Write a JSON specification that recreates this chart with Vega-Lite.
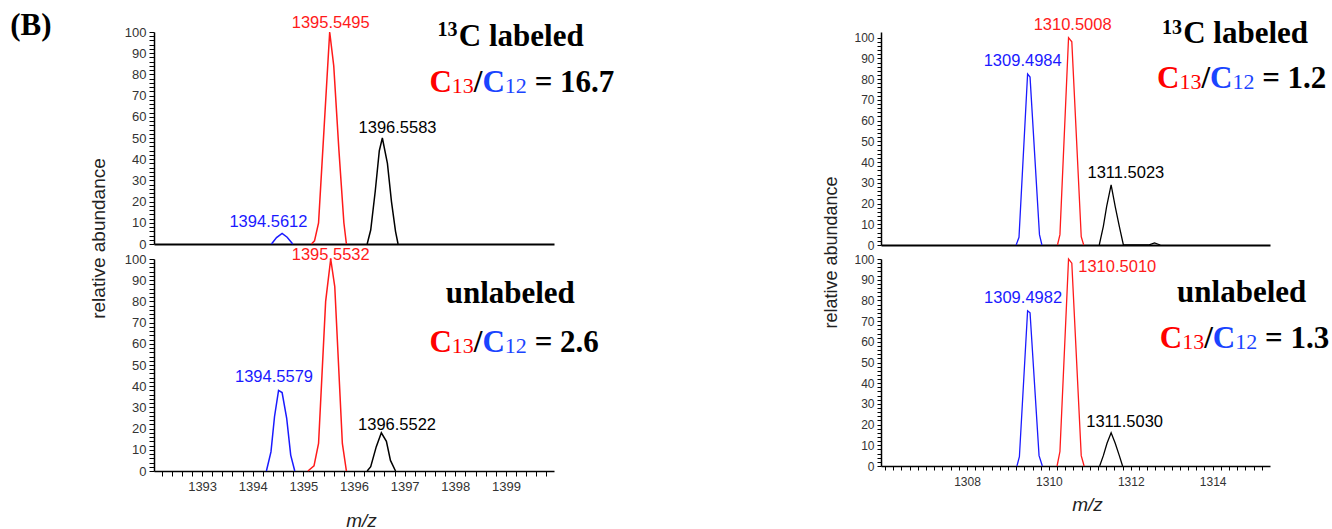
{
  "$schema": "https://vega.github.io/schema/vega-lite/v6.json",
  "background": "white",
  "padding": {"left": 10, "top": 9, "right": 0, "bottom": 0},
  "bounds": "flush",
  "spacing": 727,
  "config": {
    "view": {"stroke": null},
    "axis": {"grid": false, "labelFont": "Liberation Sans", "titleFont": "Liberation Sans", "labelOverlap": false, "labelBound": false, "labelFlush": false, "tickColor": "#000", "domainColor": "#000"},
    "text": {"font": "Liberation Sans"}
  },
  "datasets": {
    "pk_LT": [
      {"mz": 1394.37, "ab": 0, "ion": "C12"}, {"mz": 1394.47, "ab": 3, "ion": "C12"}, {"mz": 1394.58, "ab": 5, "ion": "C12"}, {"mz": 1394.68, "ab": 3.2, "ion": "C12"}, {"mz": 1394.79, "ab": 0, "ion": "C12"},
      {"mz": 1395.16, "ab": 0, "ion": "C13"}, {"mz": 1395.22, "ab": 1.5, "ion": "C13"}, {"mz": 1395.30, "ab": 10, "ion": "C13"}, {"mz": 1395.41, "ab": 55, "ion": "C13"}, {"mz": 1395.52, "ab": 100, "ion": "C13"}, {"mz": 1395.60, "ab": 84, "ion": "C13"}, {"mz": 1395.70, "ab": 45, "ion": "C13"}, {"mz": 1395.80, "ab": 10, "ion": "C13"}, {"mz": 1395.85, "ab": 0, "ion": "C13"},
      {"mz": 1396.26, "ab": 0, "ion": "M1"}, {"mz": 1396.33, "ab": 6.6, "ion": "M1"}, {"mz": 1396.42, "ab": 25, "ion": "M1"}, {"mz": 1396.50, "ab": 44, "ion": "M1"}, {"mz": 1396.56, "ab": 50, "ion": "M1"}, {"mz": 1396.66, "ab": 38, "ion": "M1"}, {"mz": 1396.74, "ab": 20, "ion": "M1"}, {"mz": 1396.82, "ab": 6, "ion": "M1"}, {"mz": 1396.87, "ab": 0, "ion": "M1"}
    ],
    "pk_LB": [
      {"mz": 1394.27, "ab": 0, "ion": "C12"}, {"mz": 1394.36, "ab": 9, "ion": "C12"}, {"mz": 1394.43, "ab": 25.6, "ion": "C12"}, {"mz": 1394.51, "ab": 38, "ion": "C12"}, {"mz": 1394.58, "ab": 37, "ion": "C12"}, {"mz": 1394.67, "ab": 25, "ion": "C12"}, {"mz": 1394.75, "ab": 7.5, "ion": "C12"}, {"mz": 1394.83, "ab": 0, "ion": "C12"},
      {"mz": 1395.09, "ab": 0, "ion": "C13"}, {"mz": 1395.21, "ab": 2.4, "ion": "C13"}, {"mz": 1395.30, "ab": 13, "ion": "C13"}, {"mz": 1395.44, "ab": 80, "ion": "C13"}, {"mz": 1395.54, "ab": 100, "ion": "C13"}, {"mz": 1395.62, "ab": 87, "ion": "C13"}, {"mz": 1395.77, "ab": 13, "ion": "C13"}, {"mz": 1395.85, "ab": 0, "ion": "C13"},
      {"mz": 1396.26, "ab": 0, "ion": "M1"}, {"mz": 1396.33, "ab": 2, "ion": "M1"}, {"mz": 1396.44, "ab": 11.5, "ion": "M1"}, {"mz": 1396.54, "ab": 18, "ion": "M1"}, {"mz": 1396.64, "ab": 14, "ion": "M1"}, {"mz": 1396.72, "ab": 5, "ion": "M1"}, {"mz": 1396.82, "ab": 0, "ion": "M1"}
    ],
    "pk_RT": [
      {"mz": 1309.20, "ab": 0, "ion": "C12"}, {"mz": 1309.27, "ab": 3.7, "ion": "C12"}, {"mz": 1309.48, "ab": 82.5, "ion": "C12"}, {"mz": 1309.54, "ab": 81, "ion": "C12"}, {"mz": 1309.77, "ab": 5, "ion": "C12"}, {"mz": 1309.83, "ab": 0, "ion": "C12"},
      {"mz": 1310.21, "ab": 0, "ion": "C13"}, {"mz": 1310.27, "ab": 5, "ion": "C13"}, {"mz": 1310.48, "ab": 100, "ion": "C13"}, {"mz": 1310.56, "ab": 98, "ion": "C13"}, {"mz": 1310.79, "ab": 4, "ion": "C13"}, {"mz": 1310.85, "ab": 0, "ion": "C13"},
      {"mz": 1311.23, "ab": 0, "ion": "M1"}, {"mz": 1311.33, "ab": 9, "ion": "M1"}, {"mz": 1311.41, "ab": 18.5, "ion": "M1"}, {"mz": 1311.52, "ab": 29, "ion": "M1"}, {"mz": 1311.62, "ab": 18.5, "ion": "M1"}, {"mz": 1311.72, "ab": 9, "ion": "M1"}, {"mz": 1311.82, "ab": 0, "ion": "M1"}, {"mz": 1312.43, "ab": 0, "ion": "M1"}, {"mz": 1312.58, "ab": 1, "ion": "M1"}, {"mz": 1312.72, "ab": 0, "ion": "M1"}
    ],
    "pk_RB": [
      {"mz": 1309.22, "ab": 0, "ion": "C12"}, {"mz": 1309.28, "ab": 4.5, "ion": "C12"}, {"mz": 1309.48, "ab": 75, "ion": "C12"}, {"mz": 1309.54, "ab": 74, "ion": "C12"}, {"mz": 1309.76, "ab": 5, "ion": "C12"}, {"mz": 1309.84, "ab": 0, "ion": "C12"},
      {"mz": 1310.20, "ab": 0, "ion": "C13"}, {"mz": 1310.27, "ab": 7, "ion": "C13"}, {"mz": 1310.48, "ab": 100, "ion": "C13"}, {"mz": 1310.56, "ab": 98, "ion": "C13"}, {"mz": 1310.79, "ab": 5, "ion": "C13"}, {"mz": 1310.86, "ab": 0, "ion": "C13"},
      {"mz": 1311.24, "ab": 0, "ion": "M1"}, {"mz": 1311.33, "ab": 5, "ion": "M1"}, {"mz": 1311.42, "ab": 11, "ion": "M1"}, {"mz": 1311.52, "ab": 16, "ion": "M1"}, {"mz": 1311.62, "ab": 11, "ion": "M1"}, {"mz": 1311.72, "ab": 5, "ion": "M1"}, {"mz": 1311.80, "ab": 0, "ion": "M1"}
    ],
    "lab_LT": [
      {"mz": 1394.31, "ab": 8.0, "label": "1394.5612", "ion": "C12"},
      {"mz": 1395.54, "ab": 102, "label": "1395.5495", "ion": "C13"},
      {"mz": 1396.86, "ab": 52.4, "label": "1396.5583", "ion": "M1"}
    ],
    "lab_LB": [
      {"mz": 1395.54, "ab": 99.5, "label": "1395.5532", "ion": "C13"},
      {"mz": 1394.42, "ab": 42.1, "label": "1394.5579", "ion": "C12"},
      {"mz": 1396.85, "ab": 19.3, "label": "1396.5522", "ion": "M1"}
    ],
    "lab_RT": [
      {"mz": 1310.58, "ab": 103.7, "label": "1310.5008", "ion": "C13"},
      {"mz": 1309.36, "ab": 86.5, "label": "1309.4984", "ion": "C12"},
      {"mz": 1311.88, "ab": 32.2, "label": "1311.5023", "ion": "M1"}
    ],
    "lab_RB": [
      {"mz": 1311.67, "ab": 93.9, "label": "1310.5010", "ion": "C13"},
      {"mz": 1309.37, "ab": 78.6, "label": "1309.4982", "ion": "C12"},
      {"mz": 1311.85, "ab": 19, "label": "1311.5030", "ion": "M1"}
    ],
    "ann_LT": [
      {"part": "panel", "mz": 1389.21, "ab": 98.6, "text": "(B)"},
      {"part": "sup", "mz": 1397.65, "ab": 98.1, "text": "13"},
      {"part": "title", "mz": 1398.07, "ab": 93.4, "text": "C labeled"},
      {"part": "ratio", "mz": 1397.49, "ab": 71.7, "text": "= 16.7"}
    ],
    "ann_LB": [
      {"part": "title", "mz": 1397.81, "ab": 79.2, "text": "unlabeled"},
      {"part": "ratio", "mz": 1397.49, "ab": 56.1, "text": "= 2.6"}
    ],
    "ann_RT": [
      {"part": "sup", "mz": 1312.76, "ab": 101.6, "text": "13"},
      {"part": "title", "mz": 1313.28, "ab": 97.4, "text": "C labeled"},
      {"part": "ratio", "mz": 1312.64, "ab": 75.7, "text": "= 1.2"}
    ],
    "ann_RB": [
      {"part": "title", "mz": 1313.13, "ab": 79.2, "text": "unlabeled"},
      {"part": "ratio", "mz": 1312.71, "ab": 57, "text": "= 1.3"}
    ]
  },
  "hconcat": [
    {
      "bounds": "flush",
      "spacing": 15,
      "vconcat": [
        {
          "width": 400, "height": 212,
          "encoding": {
            "x": {"field": "mz", "type": "quantitative", "scale": {"domain": [1392.05, 1399.95], "nice": false, "zero": false}, "axis": {"title": null, "labels": false, "ticks": false, "domain": true, "domainWidth": 2}},
            "y": {"field": "ab", "type": "quantitative", "scale": {"domain": [0, 100], "nice": false}, "axis": {"values": [0,2,4,6,8,10,12,14,16,18,20,22,24,26,28,30,32,34,36,38,40,42,44,46,48,50,52,54,56,58,60,62,64,66,68,70,72,74,76,78,80,82,84,86,88,90,92,94,96,98,100], "labelExpr": "datum.value % 10 === 0 ? datum.label : ''", "tickSize": 5, "domainWidth": 1.5, "labelFontSize": 13, "labelColor": "#333", "labelPadding": 3, "title": "relative abundance", "titleFontSize": 19, "titleFontWeight": "normal", "titleColor": "#222", "titleX": -50, "titleY": 206, "titleAngle": -90, "titleAlign": "center", "titleBaseline": "alphabetic"}}
          },
          "layer": [
            {"data": {"name": "pk_LT"}, "mark": {"type": "line", "strokeWidth": 1.5}, "encoding": {"color": {"field": "ion", "type": "nominal", "scale": {"domain": ["C12", "C13", "M1"], "range": ["#1a1aff", "#ff1a1a", "#000000"]}, "legend": null}}},
            {"data": {"name": "lab_LT"}, "mark": {"type": "text", "fontSize": 16.5, "align": "center", "baseline": "alphabetic"}, "encoding": {"text": {"field": "label"}, "color": {"field": "ion", "type": "nominal", "scale": {"domain": ["C12", "C13", "M1"], "range": ["#1a1aff", "#ff1a1a", "#000000"]}, "legend": null}}},
            {"data": {"name": "ann_LT"}, "transform": [{"filter": "datum.part === 'sup'"}], "mark": {"type": "text", "font": "Liberation Serif", "fontWeight": "bold", "fontSize": 20, "align": "left", "baseline": "alphabetic", "color": "#000"}, "encoding": {"text": {"field": "text"}}},
            {"data": {"name": "ann_LT"}, "transform": [{"filter": "datum.part === 'title' || datum.part === 'panel'"}], "mark": {"type": "text", "font": "Liberation Serif", "fontWeight": "bold", "fontSize": 31, "align": "left", "baseline": "alphabetic", "color": "#000"}, "encoding": {"text": {"field": "text"}}},
            {"data": {"name": "ann_LT"}, "transform": [{"filter": "datum.part === 'ratio'"}], "mark": {"type": "text", "font": "Liberation Serif", "fontWeight": "bold", "fontSize": 31, "align": "left", "baseline": "alphabetic", "color": "#ff0000"}, "encoding": {"text": {"value": "C"}}},
            {"data": {"name": "ann_LT"}, "transform": [{"filter": "datum.part === 'ratio'"}], "mark": {"type": "text", "font": "Liberation Serif", "fontWeight": "normal", "fontSize": 22, "align": "left", "baseline": "alphabetic", "color": "#ff0000", "dx": 22.4, "dy": 1}, "encoding": {"text": {"value": "13"}}},
            {"data": {"name": "ann_LT"}, "transform": [{"filter": "datum.part === 'ratio'"}], "mark": {"type": "text", "font": "Liberation Serif", "fontWeight": "bold", "fontSize": 31, "align": "left", "baseline": "alphabetic", "color": "#000", "dx": 44.4}, "encoding": {"text": {"value": "/"}}},
            {"data": {"name": "ann_LT"}, "transform": [{"filter": "datum.part === 'ratio'"}], "mark": {"type": "text", "font": "Liberation Serif", "fontWeight": "bold", "fontSize": 31, "align": "left", "baseline": "alphabetic", "color": "#1a44ff", "dx": 53}, "encoding": {"text": {"value": "C"}}},
            {"data": {"name": "ann_LT"}, "transform": [{"filter": "datum.part === 'ratio'"}], "mark": {"type": "text", "font": "Liberation Serif", "fontWeight": "normal", "fontSize": 22, "align": "left", "baseline": "alphabetic", "color": "#1a44ff", "dx": 75.4, "dy": 1}, "encoding": {"text": {"value": "12"}}},
            {"data": {"name": "ann_LT"}, "transform": [{"filter": "datum.part === 'ratio'"}], "mark": {"type": "text", "font": "Liberation Serif", "fontWeight": "bold", "fontSize": 31, "align": "left", "baseline": "alphabetic", "color": "#000", "dx": 105.2}, "encoding": {"text": {"field": "text"}}}
          ]
        },
        {
          "width": 400, "height": 212,
          "encoding": {
            "x": {"field": "mz", "type": "quantitative", "scale": {"domain": [1392.05, 1399.95], "nice": false, "zero": false}, "axis": {"values": [1392.2,1392.4,1392.6,1392.8,1393,1393.2,1393.4,1393.6,1393.8,1394,1394.2,1394.4,1394.6,1394.8,1395,1395.2,1395.4,1395.6,1395.8,1396,1396.2,1396.4,1396.6,1396.8,1397,1397.2,1397.4,1397.6,1397.8,1398,1398.2,1398.4,1398.6,1398.8,1399,1399.2,1399.4,1399.6,1399.8], "labelExpr": "abs(datum.value - round(datum.value)) < 0.01 ? format(datum.value, 'd') : ''", "tickSize": 5, "domainWidth": 1.5, "labelFontSize": 13, "labelColor": "#333", "labelPadding": 4, "title": "m/z", "titleFontStyle": "italic", "titleFontSize": 19, "titleFontWeight": "normal", "titleColor": "#222", "titleX": 207, "titleY": 55, "titleAlign": "center", "titleBaseline": "alphabetic"}},
            "y": {"field": "ab", "type": "quantitative", "scale": {"domain": [0, 100], "nice": false}, "axis": {"values": [0,2,4,6,8,10,12,14,16,18,20,22,24,26,28,30,32,34,36,38,40,42,44,46,48,50,52,54,56,58,60,62,64,66,68,70,72,74,76,78,80,82,84,86,88,90,92,94,96,98,100], "labelExpr": "datum.value % 10 === 0 ? datum.label : ''", "tickSize": 5, "domainWidth": 1.5, "labelFontSize": 13, "labelColor": "#333", "labelPadding": 3, "title": null}}
          },
          "layer": [
            {"data": {"name": "pk_LB"}, "mark": {"type": "line", "strokeWidth": 1.5}, "encoding": {"color": {"field": "ion", "type": "nominal", "scale": {"domain": ["C12", "C13", "M1"], "range": ["#1a1aff", "#ff1a1a", "#000000"]}, "legend": null}}},
            {"data": {"name": "lab_LB"}, "mark": {"type": "text", "fontSize": 16.5, "align": "center", "baseline": "alphabetic"}, "encoding": {"text": {"field": "label"}, "color": {"field": "ion", "type": "nominal", "scale": {"domain": ["C12", "C13", "M1"], "range": ["#1a1aff", "#ff1a1a", "#000000"]}, "legend": null}}},
            {"data": {"name": "ann_LB"}, "transform": [{"filter": "datum.part === 'title'"}], "mark": {"type": "text", "font": "Liberation Serif", "fontWeight": "bold", "fontSize": 31, "align": "left", "baseline": "alphabetic", "color": "#000"}, "encoding": {"text": {"field": "text"}}},
            {"data": {"name": "ann_LB"}, "transform": [{"filter": "datum.part === 'ratio'"}], "mark": {"type": "text", "font": "Liberation Serif", "fontWeight": "bold", "fontSize": 31, "align": "left", "baseline": "alphabetic", "color": "#ff0000"}, "encoding": {"text": {"value": "C"}}},
            {"data": {"name": "ann_LB"}, "transform": [{"filter": "datum.part === 'ratio'"}], "mark": {"type": "text", "font": "Liberation Serif", "fontWeight": "normal", "fontSize": 22, "align": "left", "baseline": "alphabetic", "color": "#ff0000", "dx": 22.4, "dy": 1}, "encoding": {"text": {"value": "13"}}},
            {"data": {"name": "ann_LB"}, "transform": [{"filter": "datum.part === 'ratio'"}], "mark": {"type": "text", "font": "Liberation Serif", "fontWeight": "bold", "fontSize": 31, "align": "left", "baseline": "alphabetic", "color": "#000", "dx": 44.4}, "encoding": {"text": {"value": "/"}}},
            {"data": {"name": "ann_LB"}, "transform": [{"filter": "datum.part === 'ratio'"}], "mark": {"type": "text", "font": "Liberation Serif", "fontWeight": "bold", "fontSize": 31, "align": "left", "baseline": "alphabetic", "color": "#1a44ff", "dx": 53}, "encoding": {"text": {"value": "C"}}},
            {"data": {"name": "ann_LB"}, "transform": [{"filter": "datum.part === 'ratio'"}], "mark": {"type": "text", "font": "Liberation Serif", "fontWeight": "normal", "fontSize": 22, "align": "left", "baseline": "alphabetic", "color": "#1a44ff", "dx": 75.4, "dy": 1}, "encoding": {"text": {"value": "12"}}},
            {"data": {"name": "ann_LB"}, "transform": [{"filter": "datum.part === 'ratio'"}], "mark": {"type": "text", "font": "Liberation Serif", "fontWeight": "bold", "fontSize": 31, "align": "left", "baseline": "alphabetic", "color": "#000", "dx": 105.2}, "encoding": {"text": {"field": "text"}}}
          ]
        }
      ]
    },
    {
      "bounds": "flush",
      "spacing": 14,
      "vconcat": [
        {
          "width": 389, "height": 213,
          "encoding": {
            "x": {"field": "mz", "type": "quantitative", "scale": {"domain": [1305.9, 1315.4], "nice": false, "zero": false}, "axis": {"title": null, "labels": false, "ticks": false, "domain": true, "domainWidth": 2}},
            "y": {"field": "ab", "type": "quantitative", "scale": {"domain": [0, 102.75], "nice": false}, "axis": {"values": [0,2,4,6,8,10,12,14,16,18,20,22,24,26,28,30,32,34,36,38,40,42,44,46,48,50,52,54,56,58,60,62,64,66,68,70,72,74,76,78,80,82,84,86,88,90,92,94,96,98,100], "labelExpr": "datum.value % 10 === 0 ? datum.label : ''", "tickSize": 4, "domainWidth": 1.5, "labelFontSize": 12, "labelColor": "#333", "labelPadding": 3, "title": "relative abundance", "titleFontSize": 18, "titleFontWeight": "normal", "titleColor": "#222", "titleX": -45, "titleY": 220, "titleAngle": -90, "titleAlign": "center", "titleBaseline": "alphabetic"}}
          },
          "layer": [
            {"data": {"name": "pk_RT"}, "mark": {"type": "line", "strokeWidth": 1.3}, "encoding": {"color": {"field": "ion", "type": "nominal", "scale": {"domain": ["C12", "C13", "M1"], "range": ["#1a1aff", "#ff1a1a", "#000000"]}, "legend": null}}},
            {"data": {"name": "lab_RT"}, "mark": {"type": "text", "fontSize": 16.5, "align": "center", "baseline": "alphabetic"}, "encoding": {"text": {"field": "label"}, "color": {"field": "ion", "type": "nominal", "scale": {"domain": ["C12", "C13", "M1"], "range": ["#1a1aff", "#ff1a1a", "#000000"]}, "legend": null}}},
            {"data": {"name": "ann_RT"}, "transform": [{"filter": "datum.part === 'sup'"}], "mark": {"type": "text", "font": "Liberation Serif", "fontWeight": "bold", "fontSize": 20, "align": "left", "baseline": "alphabetic", "color": "#000"}, "encoding": {"text": {"field": "text"}}},
            {"data": {"name": "ann_RT"}, "transform": [{"filter": "datum.part === 'title'"}], "mark": {"type": "text", "font": "Liberation Serif", "fontWeight": "bold", "fontSize": 31, "align": "left", "baseline": "alphabetic", "color": "#000"}, "encoding": {"text": {"field": "text"}}},
            {"data": {"name": "ann_RT"}, "transform": [{"filter": "datum.part === 'ratio'"}], "mark": {"type": "text", "font": "Liberation Serif", "fontWeight": "bold", "fontSize": 31, "align": "left", "baseline": "alphabetic", "color": "#ff0000"}, "encoding": {"text": {"value": "C"}}},
            {"data": {"name": "ann_RT"}, "transform": [{"filter": "datum.part === 'ratio'"}], "mark": {"type": "text", "font": "Liberation Serif", "fontWeight": "normal", "fontSize": 22, "align": "left", "baseline": "alphabetic", "color": "#ff0000", "dx": 22.4, "dy": 1}, "encoding": {"text": {"value": "13"}}},
            {"data": {"name": "ann_RT"}, "transform": [{"filter": "datum.part === 'ratio'"}], "mark": {"type": "text", "font": "Liberation Serif", "fontWeight": "bold", "fontSize": 31, "align": "left", "baseline": "alphabetic", "color": "#000", "dx": 44.4}, "encoding": {"text": {"value": "/"}}},
            {"data": {"name": "ann_RT"}, "transform": [{"filter": "datum.part === 'ratio'"}], "mark": {"type": "text", "font": "Liberation Serif", "fontWeight": "bold", "fontSize": 31, "align": "left", "baseline": "alphabetic", "color": "#1a44ff", "dx": 53}, "encoding": {"text": {"value": "C"}}},
            {"data": {"name": "ann_RT"}, "transform": [{"filter": "datum.part === 'ratio'"}], "mark": {"type": "text", "font": "Liberation Serif", "fontWeight": "normal", "fontSize": 22, "align": "left", "baseline": "alphabetic", "color": "#1a44ff", "dx": 75.4, "dy": 1}, "encoding": {"text": {"value": "12"}}},
            {"data": {"name": "ann_RT"}, "transform": [{"filter": "datum.part === 'ratio'"}], "mark": {"type": "text", "font": "Liberation Serif", "fontWeight": "bold", "fontSize": 31, "align": "left", "baseline": "alphabetic", "color": "#000", "dx": 105.2}, "encoding": {"text": {"field": "text"}}}
          ]
        },
        {
          "width": 389, "height": 207,
          "encoding": {
            "x": {"field": "mz", "type": "quantitative", "scale": {"domain": [1305.9, 1315.4], "nice": false, "zero": false}, "axis": {"values": [1306,1306.2,1306.4,1306.6,1306.8,1307,1307.2,1307.4,1307.6,1307.8,1308,1308.2,1308.4,1308.6,1308.8,1309,1309.2,1309.4,1309.6,1309.8,1310,1310.2,1310.4,1310.6,1310.8,1311,1311.2,1311.4,1311.6,1311.8,1312,1312.2,1312.4,1312.6,1312.8,1313,1313.2,1313.4,1313.6,1313.8,1314,1314.2,1314.4,1314.6,1314.8,1315,1315.2], "labelExpr": "abs(datum.value - round(datum.value)) < 0.01 && round(datum.value) % 2 === 0 && datum.value > 1307 ? format(datum.value, 'd') : ''", "tickSize": 4, "domainWidth": 1.5, "labelFontSize": 12, "labelColor": "#333", "labelPadding": 6, "title": "m/z", "titleFontStyle": "italic", "titleFontSize": 19, "titleFontWeight": "normal", "titleColor": "#222", "titleX": 206, "titleY": 44, "titleAlign": "center", "titleBaseline": "alphabetic"}},
            "y": {"field": "ab", "type": "quantitative", "scale": {"domain": [0, 100], "nice": false}, "axis": {"values": [0,2,4,6,8,10,12,14,16,18,20,22,24,26,28,30,32,34,36,38,40,42,44,46,48,50,52,54,56,58,60,62,64,66,68,70,72,74,76,78,80,82,84,86,88,90,92,94,96,98,100], "labelExpr": "datum.value % 10 === 0 ? datum.label : ''", "tickSize": 4, "domainWidth": 1.5, "labelFontSize": 12, "labelColor": "#333", "labelPadding": 3, "title": null}}
          },
          "layer": [
            {"data": {"name": "pk_RB"}, "mark": {"type": "line", "strokeWidth": 1.3}, "encoding": {"color": {"field": "ion", "type": "nominal", "scale": {"domain": ["C12", "C13", "M1"], "range": ["#1a1aff", "#ff1a1a", "#000000"]}, "legend": null}}},
            {"data": {"name": "lab_RB"}, "mark": {"type": "text", "fontSize": 16.5, "align": "center", "baseline": "alphabetic"}, "encoding": {"text": {"field": "label"}, "color": {"field": "ion", "type": "nominal", "scale": {"domain": ["C12", "C13", "M1"], "range": ["#1a1aff", "#ff1a1a", "#000000"]}, "legend": null}}},
            {"data": {"name": "ann_RB"}, "transform": [{"filter": "datum.part === 'title'"}], "mark": {"type": "text", "font": "Liberation Serif", "fontWeight": "bold", "fontSize": 31, "align": "left", "baseline": "alphabetic", "color": "#000"}, "encoding": {"text": {"field": "text"}}},
            {"data": {"name": "ann_RB"}, "transform": [{"filter": "datum.part === 'ratio'"}], "mark": {"type": "text", "font": "Liberation Serif", "fontWeight": "bold", "fontSize": 31, "align": "left", "baseline": "alphabetic", "color": "#ff0000"}, "encoding": {"text": {"value": "C"}}},
            {"data": {"name": "ann_RB"}, "transform": [{"filter": "datum.part === 'ratio'"}], "mark": {"type": "text", "font": "Liberation Serif", "fontWeight": "normal", "fontSize": 22, "align": "left", "baseline": "alphabetic", "color": "#ff0000", "dx": 22.4, "dy": 1}, "encoding": {"text": {"value": "13"}}},
            {"data": {"name": "ann_RB"}, "transform": [{"filter": "datum.part === 'ratio'"}], "mark": {"type": "text", "font": "Liberation Serif", "fontWeight": "bold", "fontSize": 31, "align": "left", "baseline": "alphabetic", "color": "#000", "dx": 44.4}, "encoding": {"text": {"value": "/"}}},
            {"data": {"name": "ann_RB"}, "transform": [{"filter": "datum.part === 'ratio'"}], "mark": {"type": "text", "font": "Liberation Serif", "fontWeight": "bold", "fontSize": 31, "align": "left", "baseline": "alphabetic", "color": "#1a44ff", "dx": 53}, "encoding": {"text": {"value": "C"}}},
            {"data": {"name": "ann_RB"}, "transform": [{"filter": "datum.part === 'ratio'"}], "mark": {"type": "text", "font": "Liberation Serif", "fontWeight": "normal", "fontSize": 22, "align": "left", "baseline": "alphabetic", "color": "#1a44ff", "dx": 75.4, "dy": 1}, "encoding": {"text": {"value": "12"}}},
            {"data": {"name": "ann_RB"}, "transform": [{"filter": "datum.part === 'ratio'"}], "mark": {"type": "text", "font": "Liberation Serif", "fontWeight": "bold", "fontSize": 31, "align": "left", "baseline": "alphabetic", "color": "#000", "dx": 105.2}, "encoding": {"text": {"field": "text"}}}
          ]
        }
      ]
    }
  ]
}
